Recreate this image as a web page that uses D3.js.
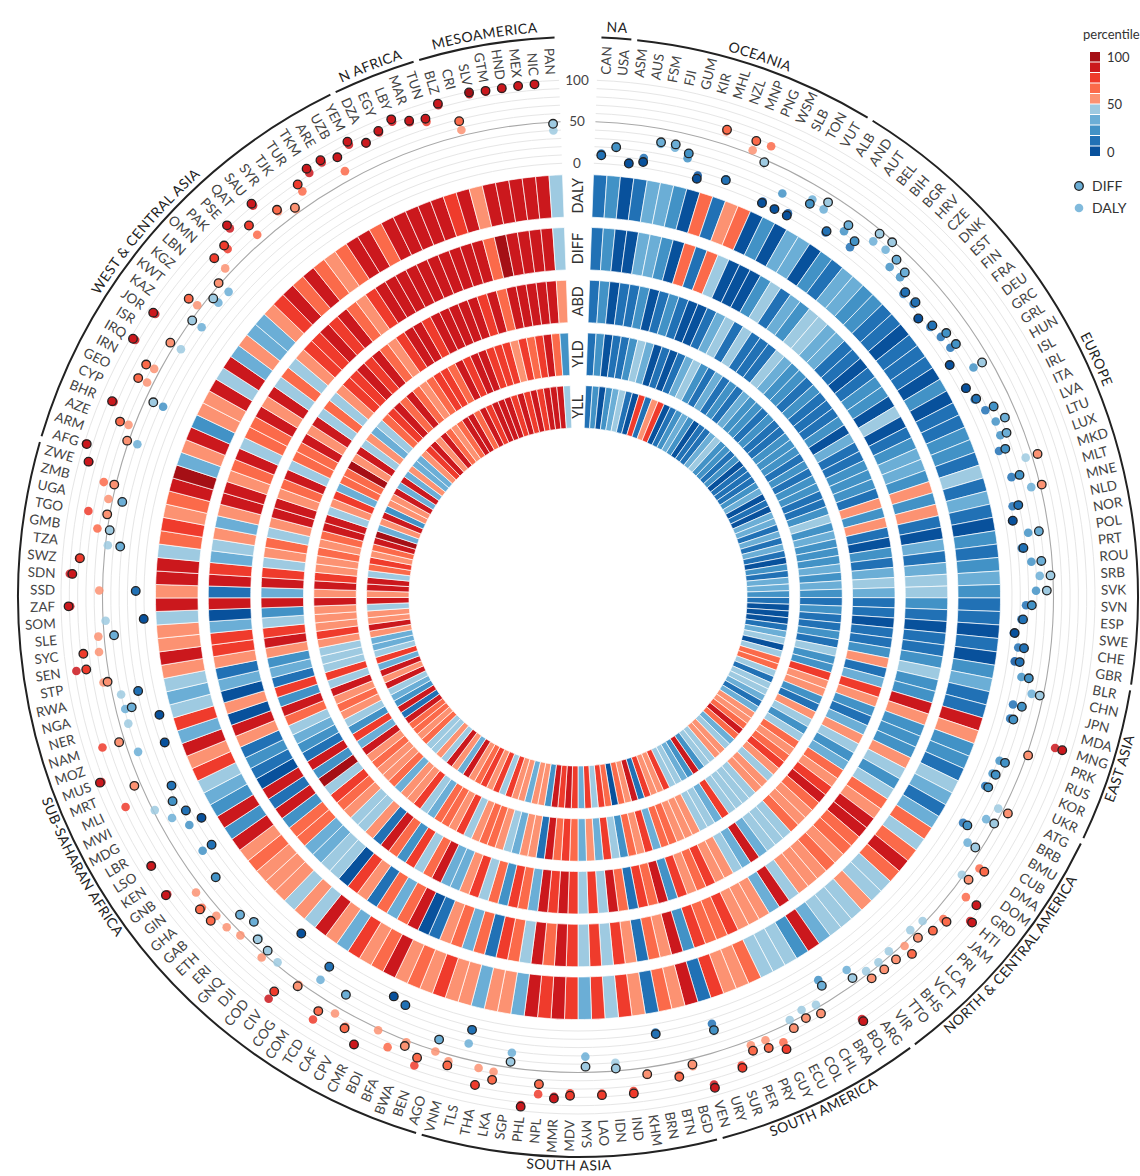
<!DOCTYPE html>
<html><head><meta charset="utf-8">
<script src="https://cdn.jsdelivr.net/npm/d3@7"></script>
<style>
body{margin:0;background:#fff;}
svg{display:block;font-family:Lato,"Open Sans","DejaVu Sans",sans-serif;}
</style></head><body>
<svg id="chart" width="1140" height="1176"></svg>
<script>
// ---------------- data ----------------
const countries = [
 "CAN","USA",
 "ASM","AUS","FSM","FJI","GUM","KIR","MHL","NZL","MNP","PNG","WSM","SLB","TON","VUT",
 "ALB","AND","AUT","BEL","BIH","BGR","HRV","CZE","DNK","EST","FIN","FRA","DEU","GRC","GRL","HUN","ISL","IRL","ITA","LVA","LTU","LUX","MKD","MLT","MNE","NLD","NOR","POL","PRT","ROU","SRB","SVK","SVN","ESP","SWE","CHE","GBR",
 "BLR","CHN","JPN","MDA","MNG","PRK","RUS","KOR","UKR",
 "ATG","BRB","BMU","CUB","DMA","DOM","GRD","HTI","JAM","PRI","LCA","VCT","BHS","TTO","VIR",
 "ARG","BOL","BRA","CHL","COL","ECU","GUY","PRY","PER","SUR","URY","VEN",
 "BGD","BTN","BRN","KHM","IND","IDN","LAO","MYS","MDV","MMR","NPL","PHL","SGP","LKA","THA","TLS","VNM",
 "AGO","BEN","BWA","BFA","BDI","CMR","CPV","CAF","TCD","COM","COG","CIV","COD","DJI","GNQ","ERI","ETH","GAB","GHA","GIN","GNB","KEN","LSO","LBR","MDG","MWI","MLI","MRT","MUS","MOZ","NAM","NER","NGA","RWA","STP","SEN","SYC","SLE","SOM","ZAF","SSD","SDN","SWZ","TZA","GMB","TGO","UGA","ZMB","ZWE",
 "AFG","ARM","AZE","BHR","CYP","GEO","IRN","IRQ","ISR","JOR","KAZ","KWT","KGZ","LBN","OMN","PAK","PSE","QAT","SAU","SYR","TJK","TUR","TKM","ARE","UZB","YEM",
 "DZA","EGY","LBY","MAR","TUN",
 "BLZ","CRI","SLV","GTM","HND","MEX","NIC","PAN"
];
const regionNames = ["NA","OCEANIA","EUROPE","EAST ASIA","NORTH & CENTRAL AMERICA","SOUTH AMERICA","SOUTH ASIA","SUB-SAHARAN AFRICA","WEST & CENTRAL ASIA","N AFRICA","MESOAMERICA"];
const regionCounts = [2,14,37,9,15,12,17,49,26,5,8];

const DALY = [
 12,22,
 4,12,32,31,22,5,66,11,55,68,3,22,4,33,
 30,8,22,11,34,36,24,24,13,14,6,12,15,17,5,28,7,11,17,23,22,14,42,19,39,12,8,25,15,25,34,29,17,12,4,11,9,
 20,36,17,18,80,53,22,20,18,
 44,37,15,32,61,48,68,90,64,47,44,53,45,47,46,
 31,90,22,46,43,47,68,57,56,75,16,87,
 59,66,10,59,76,40,76,31,75,80,78,93,32,58,57,31,58,
 51,75,52,66,52,80,66,58,78,33, 53,88,47,55,40,53,58,58,65,59, 88,23,84,20,34,48,78,58,93,39, 78,40,39,40,58,88,58,57,47,89, 54,90,80,47,62,76,55,65,88,
 98,39,57,84,27,57,57,94,41,90, 35,55,37,36,58,72,88,60,90,66, 55,68,82,85,62,88,
 80,86,92,84,78,
 93,57,97,96,96,97,97,40
];
const DIFF = [
 10,21,
 3,7,34,35,28,1,68,10,67,47,1,1,1,27,
 40,10,31,20,46,48,36,32,16,17,7,15,23,25,5,40,8,13,28,35,30,22,57,29,52,19,9,38,17,37,47,42,24,14,5,18,15,
 29,46,28,22,89,52,29,24,22,
 57,48,21,43,68,58,84,93,69,64,57,66,58,58,57,
 43,93,30,58,54,58,77,67,63,78,24,91,
 57,68,12,58,79,47,78,43,78,82,66,95,43,68,78,14,63,
 36,65,57,11,7,80,68,32,66,14, 55,77,2,44,42,30,36,67,68,29, 90,10,85,3,15,24,17,58,95,5, 57,1,31,19,53,76,77,38,1,91, 10,87,79,32,47,53,38,52,89,
 97,52,68,86,40,69,68,97,56,93, 49,68,45,52,76,78,93,75,93,68, 57,78,88,88,81,92,
 81,88,95,86,82,
 95,68,99,97,97,97,97,48
];
const ABD = [
 14,24,
 4,12,15,25,6,14,22,13,5,4,16,35,44,15,
 45,12,18,14,42,38,28,24,16,22,12,14,18,26,8,32,10,14,22,28,26,16,56,24,55,14,8,28,18,32,45,34,18,14,6,12,16,
 24,55,14,36,78,58,26,18,32,
 55,48,22,36,66,57,74,88,68,52,58,65,46,44,42,
 38,86,32,46,56,54,72,62,58,72,22,84,
 64,72,18,62,82,48,76,44,78,84,74,92,34,66,72,24,62,
 46,72,56,38,34,82,64,44,74,26, 62,84,18,58,48,44,52,68,72,44, 99,24,86,18,26,36,42,62,94,22, 72,18,38,28,56,82,78,46,22,92, 34,88,78,42,54,66,46,58,86,
 96,54,66,84,42,68,66,94,58,88, 48,66,46,54,74,78,88,72,90,66, 58,76,84,86,78,90,
 82,86,90,84,78,
 88,66,94,92,90,88,86,56
];
const YLD = [
 15,25,
 5,13,16,24,45,34,6,14,4,15,35,44,24,15,
 38,14,22,16,36,28,24,18,22,16,18,24,22,26,12,24,14,22,28,16,18,22,44,28,36,24,22,26,34,24,32,22,18,26,16,14,28,
 16,46,22,28,75,56,55,26,18,
 52,45,28,44,64,55,68,78,58,48,54,56,42,46,48,
 42,78,36,48,44,56,58,52,62,68,34,76,
 56,62,22,48,74,36,58,32,66,72,62,86,16,52,54,38,44,
 52,64,62,56,48,74,58,62,66,38, 48,78,56,52,38,62,54,56,64,58, 82,36,74,28,44,52,66,56,88,42, 76,44,42,48,54,78,58,52,56,84, 58,84,76,52,56,68,56,64,82,
 92,48,58,76,36,62,64,99,52,82, 44,58,38,48,66,72,84,64,86,62, 52,68,78,76,68,86,
 76,82,86,78,72,
 74,55,74,66,76,86,65,25
];
const YLL = [
 14,26,
 5,25,34,45,14,6,75,15,55,76,6,15,22,35,
 28,6,16,12,34,44,26,24,14,24,8,12,14,14,22,36,6,10,8,32,34,12,36,14,34,10,6,26,14,32,36,28,16,8,6,6,12,
 38,42,6,45,68,62,46,14,44,
 46,38,14,34,58,52,66,92,62,38,44,57,55,48,44,
 28,88,26,38,45,46,74,58,52,74,18,86,
 58,65,8,62,76,42,78,34,74,82,77,94,28,56,58,30,59,
 54,76,48,72,55,78,68,56,82,36, 56,86,46,57,44,48,62,58,64,62, 86,18,88,24,32,46,82,57,92,38, 78,42,36,38,58,88,55,56,46,88, 52,90,82,46,65,76,54,66,88,
 99,38,56,82,28,55,56,92,36,88, 38,54,36,34,56,74,86,58,88,65, 56,66,82,84,64,88,
 78,84,92,82,76,
 82,72,86,78,88,84,86,45
];
const ringNames = ["DALY","DIFF","ABD","YLD","YLL"];
const axisTicks = [0,50,100];
const legendLabels = [100,50,0];
const dotSeries = ["DIFF","DALY"];

// ---------------- layout ----------------
const cx = 578, cy = 597;
const deg = Math.PI/180;
const a0 = 2.1*deg;
const svg = d3.select("#chart");
const g = svg.append("g").attr("transform",`translate(${cx},${cy})`);

const x = d3.scaleBand().domain(countries).range([a0, 2*Math.PI - a0]);
const bw = x.bandwidth();
const colors = ["#08519c","#2171b5","#4292c6","#6baed6","#9ecae1","#fc9272","#fb6a4a","#ef3b2c","#cb181d","#a50f15"];
const color = d3.scaleThreshold().domain([10,20,30,40,50,60,70,80,98]).range(colors);
const ringData = {DALY, DIFF, ABD, YLD, YLL};
const ringInner = d3.scaleLinear().domain([0,4]).range([380,169]);
const ringThick = 42.5;
const rDot = d3.scaleLinear().domain([0,100]).range([434,517]);
const rLab = 523, rReg = 560;

function arcPath(r, s, e, ccw){
  const p = d3.path();
  if(!ccw) p.arc(0,0,r,s-Math.PI/2,e-Math.PI/2,false);
  else p.arc(0,0,r,e-Math.PI/2,s-Math.PI/2,true);
  return p.toString();
}

// heat rings
ringNames.forEach((name,i)=>{
  const ri = ringInner(i), ro = ri + ringThick;
  const arc = d3.arc().innerRadius(ri).outerRadius(ro)
    .startAngle(c=>x(c)).endAngle(c=>x(c)+bw);
  g.append("g").selectAll("path").data(countries).join("path")
    .attr("d",arc)
    .attr("fill",(c,j)=>color(ringData[name][j]))
    .attr("stroke","#fff").attr("stroke-width",0.7);
  g.append("text")
    .attr("transform",`translate(0,${-(ri+ringThick/2)}) rotate(-90)`)
    .attr("text-anchor","middle").attr("dy","0.36em")
    .attr("font-size",14.5).attr("fill","#333").text(name);
});

// grid arcs
g.append("g").selectAll("path").data(d3.range(0,101,10)).join("path")
  .attr("d",v=>arcPath(rDot(v),a0,2*Math.PI-a0))
  .attr("fill","none")
  .attr("stroke",v=>v===50?"#a8a8a8":"#e6e6e6")
  .attr("stroke-width",v=>v===50?1.1:1);

// axis labels
g.append("g").selectAll("text").data(axisTicks).join("text")
  .attr("x",-1).attr("y",v=>-rDot(v)).attr("dy","0.35em")
  .attr("text-anchor","middle").attr("font-size",13.5).attr("fill","#444")
  .text(v=>v);

// dots
const mid = c => x(c)+bw/2;
const dotsG = g.append("g");
dotSeries.slice().reverse().forEach(s=>{
  const vals = s==="DIFF"?DIFF:DALY;
  dotsG.append("g").selectAll("circle").data(countries).join("circle")
    .attr("cx",(c,j)=>rDot(vals[j])*Math.sin(mid(c)))
    .attr("cy",(c,j)=>-rDot(vals[j])*Math.cos(mid(c)))
    .attr("r",4.3)
    .attr("fill",(c,j)=>color(vals[j]))
    .attr("fill-opacity",s==="DALY"?0.85:1)
    .attr("stroke",s==="DIFF"?"#222":"none")
    .attr("stroke-width",1.3);
});

// country labels
g.append("g").selectAll("text").data(countries).join("text")
  .attr("transform",c=>{
    const a = mid(c)/deg;
    return `rotate(${a-90}) translate(${rLab},0)` + (a>180?" rotate(180)":"");
  })
  .attr("text-anchor",c=>mid(c)>Math.PI?"end":"start")
  .attr("dy","0.36em").attr("font-size",13.5).attr("fill","#444")
  .text(c=>c);

// region arcs + labels
const defs = svg.append("defs");
let start = 0;
const pad = 0.3*deg;
regionNames.forEach((name,i)=>{
  const n = regionCounts[i];
  const s = x(countries[start]) + pad;
  const e = x(countries[start+n-1]) + bw - pad;
  start += n;
  g.append("path").attr("d",arcPath(rReg,s,e,false))
    .attr("fill","none").attr("stroke","#222").attr("stroke-width",2);
  const m = (s+e)/2;
  const flip = m > Math.PI/2 && m < 1.5*Math.PI;
  const r = flip ? rReg+13.5 : rReg+6;
  defs.append("path").attr("id","rp"+i).attr("d",arcPath(r,s-0.3,e+0.3,flip))
    .attr("transform",`translate(${cx},${cy})`);
  svg.append("text").attr("font-size",14).attr("fill","#222").attr("letter-spacing",0.4)
    .append("textPath").attr("href","#rp"+i).attr("startOffset","50%")
    .attr("text-anchor","middle").text(name);
});

// legend
const lg = svg.append("g").attr("transform","translate(1083,0)");
lg.append("text").attr("x",0).attr("y",39).attr("font-size",13).attr("fill","#333").text("percentile");
const legColors = colors.slice().reverse();
lg.selectAll("rect").data(legColors).join("rect")
  .attr("x",7).attr("y",(d,k)=>52+k*10.5).attr("width",10).attr("height",9.5)
  .attr("fill",d=>d);
const ly = d3.scaleLinear().domain([100,0]).range([57,152]);
lg.selectAll("text.tk").data(legendLabels).join("text").attr("class","tk")
  .attr("x",24).attr("y",v=>ly(v)).attr("dy","0.35em")
  .attr("font-size",13).attr("fill","#333").text(v=>v);
dotSeries.forEach((s,k)=>{
  const y = 186 + k*22;
  lg.append("circle").attr("cx",-4).attr("cy",y).attr("r",4.3)
    .attr("fill","#6baed6").attr("fill-opacity",s==="DALY"?0.85:1)
    .attr("stroke",s==="DIFF"?"#222":"none").attr("stroke-width",1.3);
  lg.append("text").attr("x",9).attr("y",y).attr("dy","0.35em")
    .attr("font-size",14).attr("fill","#333").text(s);
});
</script>
</body></html>
